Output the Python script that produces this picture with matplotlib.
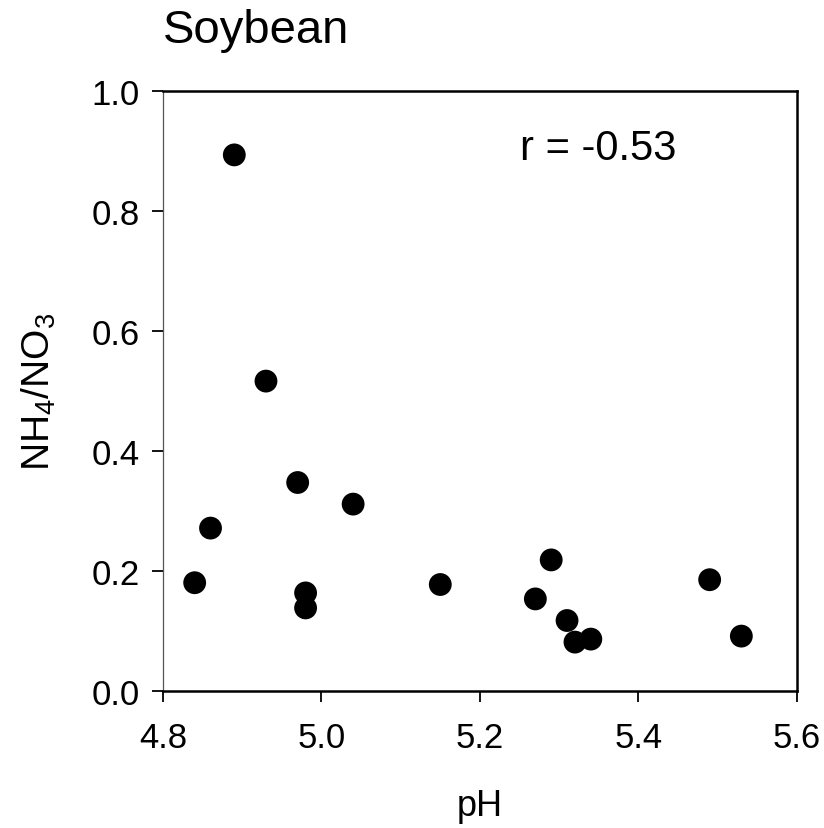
import matplotlib
matplotlib.use('Agg')
import matplotlib.pyplot as plt

plt.rcParams['font.family'] = ['Liberation Sans', 'DejaVu Sans']
plt.rcParams['mathtext.fontset'] = 'custom'
plt.rcParams['mathtext.rm'] = 'Liberation Sans'
plt.rcParams['mathtext.it'] = 'Liberation Sans'

# soil pH vs ammonium/nitrate ratio, soybean plots
ph = [4.89, 4.93, 4.97, 5.04, 4.86, 4.84, 4.98, 4.98,
      5.15, 5.29, 5.27, 5.31, 5.32, 5.34, 5.49, 5.53]
nh4_no3 = [0.893, 0.516, 0.347, 0.311, 0.271, 0.180, 0.163, 0.138,
           0.177, 0.218, 0.153, 0.117, 0.081, 0.086, 0.185, 0.091]
r_value = -0.53

x_ticks = [4.8, 5.0, 5.2, 5.4, 5.6]
y_ticks = [0.0, 0.2, 0.4, 0.6, 0.8, 1.0]

fig = plt.figure(figsize=(8.24, 8.29), dpi=100)
ax = fig.add_axes([0.1978, 0.1656, 0.967 - 0.1978, 0.8894 - 0.1656])

ax.scatter(ph, nh4_no3, s=270, color='black', edgecolors='none', zorder=3)

ax.set_xlim(4.8, 5.6)
ax.set_ylim(0.0, 1.0)
ax.set_xticks(x_ticks)
ax.set_yticks(y_ticks)
ax.set_xticklabels([f'{v:.1f}' for v in x_ticks])
ax.set_yticklabels([f'{v:.1f}' for v in y_ticks])
ax.tick_params(direction='out', length=8, width=1.3, labelsize=25)
ax.tick_params(axis='x', pad=14)
ax.tick_params(axis='y', pad=9)

ax.spines['left'].set_linewidth(0.9)
ax.spines['left'].set_color('#555555')
for side in ['top', 'right', 'bottom']:
    ax.spines[side].set_linewidth(1.8)
    ax.spines[side].set_color('black')

ax.set_xlabel('pH', fontsize=26, labelpad=24)
ax.set_ylabel(r'$\mathregular{NH_4/NO_3}$', fontsize=28, labelpad=24)

ax.text(5.251, 0.905, f'r = {r_value:.2f}', fontsize=30, va='center', ha='left')
fig.text(0.1978, 0.963, 'Soybean', fontsize=34, va='center', ha='left')

fig.savefig('out.png', dpi=100)
